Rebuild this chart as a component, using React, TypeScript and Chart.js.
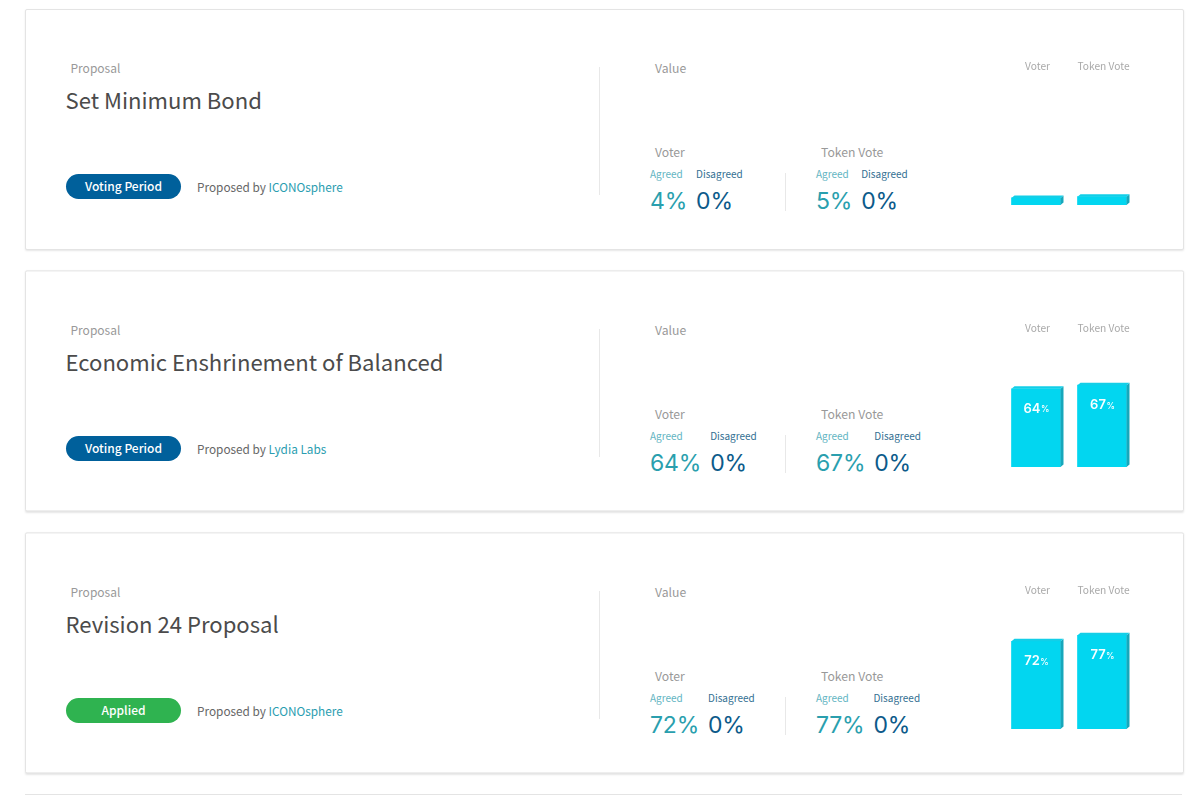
import React, { useEffect, useRef } from "react";
import { Chart, registerables } from "chart.js";

Chart.register(...registerables);

const titles = ["Set Minimum Bond", "Economic Enshrinement of Balanced", "Revision 24 Proposal"];
const statuses = ["Voting Period", "Voting Period", "Applied"];
const proposers = ["ICONOsphere", "Lydia Labs", "ICONOsphere"];
const categories = ["Voter", "Token Vote"];
const voterAgreed = [4, 64, 72];
const tokenAgreed = [5, 67, 77];
const voterDisagreed = [0, 0, 0];
const tokenDisagreed = [0, 0, 0];
const hideBarLabelBelow = 10;

const KR = '"Noto Sans CJK KR", "Noto Sans", sans-serif';
const NUM = 'Inter, "Noto Sans", sans-serif';
const CARD_STEP = 262;
const DEPTH_X = 3;
const DEPTH_Y = 2.5;

const bar3d = {
  id: "bar3d",
  afterDatasetsDraw(chart: any) {
    const ctx = chart.ctx;
    const meta = chart.getDatasetMeta(0);
    const values = chart.data.datasets[0].data;
    meta.data.forEach((bar: any, i: number) => {
      const { x, y, base, width } = bar.getProps(["x", "y", "base", "width"], true);
      const l = x - width / 2;
      const r = x + width / 2;
      ctx.save();
      ctx.fillStyle = "#17a7bb";
      ctx.beginPath();
      ctx.moveTo(r, y);
      ctx.lineTo(r + DEPTH_X, y - DEPTH_Y);
      ctx.lineTo(r + DEPTH_X, base - DEPTH_Y);
      ctx.lineTo(r, base);
      ctx.closePath();
      ctx.fill();
      ctx.fillStyle = "#12cfe8";
      ctx.beginPath();
      ctx.moveTo(l, y);
      ctx.lineTo(l + DEPTH_X, y - DEPTH_Y);
      ctx.lineTo(r + DEPTH_X, y - DEPTH_Y);
      ctx.lineTo(r, y);
      ctx.closePath();
      ctx.fill();
      if (values[i] >= hideBarLabelBelow) {
        const num = String(values[i]);
        ctx.fillStyle = "#f7feff";
        ctx.textBaseline = "middle";
        ctx.font = `600 13px ${NUM}`;
        const w1 = ctx.measureText(num).width;
        ctx.textAlign = "left";
        const startX = x - (w1 + 8) / 2;
        ctx.fillText(num, startX, y + 20);
        ctx.font = `500 8.5px ${NUM}`;
        ctx.fillText("%", startX + w1 + 0.5, y + 21);
      }
      ctx.restore();
    });
  },
};

function BarChart({ values }: { values: number[] }) {
  const ref = useRef<HTMLCanvasElement>(null);
  useEffect(() => {
    const chart = new Chart(ref.current as HTMLCanvasElement, {
      type: "bar",
      data: {
        labels: categories,
        datasets: [{ data: values, backgroundColor: "#02d6f0", barThickness: 49, base: -2, borderWidth: 0 }],
      },
      options: {
        animation: false,
        responsive: false,
        layout: { padding: 0 },
        plugins: { legend: { display: false }, tooltip: { enabled: false } },
        scales: {
          x: {
            position: "top",
            grid: { display: false, drawTicks: false },
            border: { display: false },
            afterFit: (s: any) => {
              s.height = 26;
              s.paddingLeft = 0;
              s.paddingRight = 0;
            },
            ticks: {
              padding: 11.5,
              labelOffset: 1.5,
              maxRotation: 0,
              autoSkip: false,
              color: "#a9a9a9",
              font: { family: KR, size: 10.2 },
            },
          },
          y: { display: false, min: -2, max: 100 },
        },
      },
      plugins: [bar3d],
    } as any);
    return () => chart.destroy();
  }, []);
  return <canvas ref={ref} width={132} height={147} style={{ position: "absolute", left: 1003, top: 58, width: 132, height: 147 }} />;
}

const abs = (left: number, top: number, extra: React.CSSProperties = {}): React.CSSProperties => ({
  position: "absolute",
  left,
  top,
  whiteSpace: "nowrap",
  ...extra,
});

function Stat({ left, agreed, disagreed }: { left: number; agreed: number; disagreed: number }) {
  const label: React.CSSProperties = { fontFamily: KR, fontSize: 10, lineHeight: "14px", height: 19 };
  const value: React.CSSProperties = { fontFamily: NUM, fontSize: 23, fontWeight: 400, lineHeight: "30px", letterSpacing: -0.2 };
  return (
    <div style={abs(left, 167, { display: "flex", gap: 9 })}>
      <div>
        <div style={{ ...label, color: "#63b5c2" }}>Agreed</div>
        <div style={{ ...value, color: "#2a9fae" }}>{agreed}%</div>
      </div>
      <div>
        <div style={{ ...label, color: "#336f92" }}>Disagreed</div>
        <div style={{ ...value, color: "#0c5a8a" }}>{disagreed}%</div>
      </div>
    </div>
  );
}

function Card({ i }: { i: number }) {
  const status = statuses[i];
  const small: React.CSSProperties = { fontFamily: KR, fontSize: 12.2, lineHeight: "16px", color: "#999" };
  return (
    <div style={{ position: "absolute", left: 0, top: i * CARD_STEP, width: 1200, height: CARD_STEP }}>
      <div style={{ position: "absolute", left: 25, top: 9, width: 1157, height: 239, background: "#fff", border: "1px solid #e4e4e4", borderRadius: 2, boxShadow: "0 1px 2px rgba(0,0,0,0.10)", transform: i ? "translateY(-0.6px)" : undefined }} />
      <div style={abs(70.5, 59.5, { ...small, fontSize: 12 })}>Proposal</div>
      <div style={abs(65.5, 82.5, { fontFamily: KR, fontSize: 22.1, lineHeight: "32px", color: "#4b4b4b" })}>{titles[i]}</div>
      <div style={abs(66, 174, { width: 115, height: 25, borderRadius: 13, background: status === "Applied" ? "#2fb350" : "#00609b", color: "#fff", fontFamily: KR, fontSize: 12, fontWeight: 500, lineHeight: "23px", textAlign: "center" })}>{status}</div>
      <div style={abs(197, 179, { fontFamily: KR, fontSize: 11.8, lineHeight: "16px", color: "#666" })}>
        Proposed by <span style={{ color: "#2a9db0" }}>{proposers[i]}</span>
      </div>
      <div style={abs(599, 67, { width: 1, height: 128, background: "#e8e8e8" })} />
      <div style={abs(655, 60, small)}>Value</div>
      <div style={abs(655, 144, small)}>Voter</div>
      <div style={abs(821, 144, small)}>Token Vote</div>
      <Stat left={650} agreed={voterAgreed[i]} disagreed={voterDisagreed[i]} />
      <div style={abs(785, 173, { width: 1, height: 38, background: "#e8e8e8" })} />
      <Stat left={816} agreed={tokenAgreed[i]} disagreed={tokenDisagreed[i]} />
      <BarChart values={[voterAgreed[i], tokenAgreed[i]]} />
    </div>
  );
}

export default function App() {
  return (
    <div style={{ position: "fixed", left: 0, top: 0, width: 1200, height: 795, overflow: "hidden", background: "#fff" }}>
      {titles.map((_, i) => (
        <Card key={i} i={i} />
      ))}
      <div style={{ position: "absolute", left: 25, top: 794, width: 1157, height: 20, borderTop: "1px solid #e4e4e4" }} />
    </div>
  );
}
